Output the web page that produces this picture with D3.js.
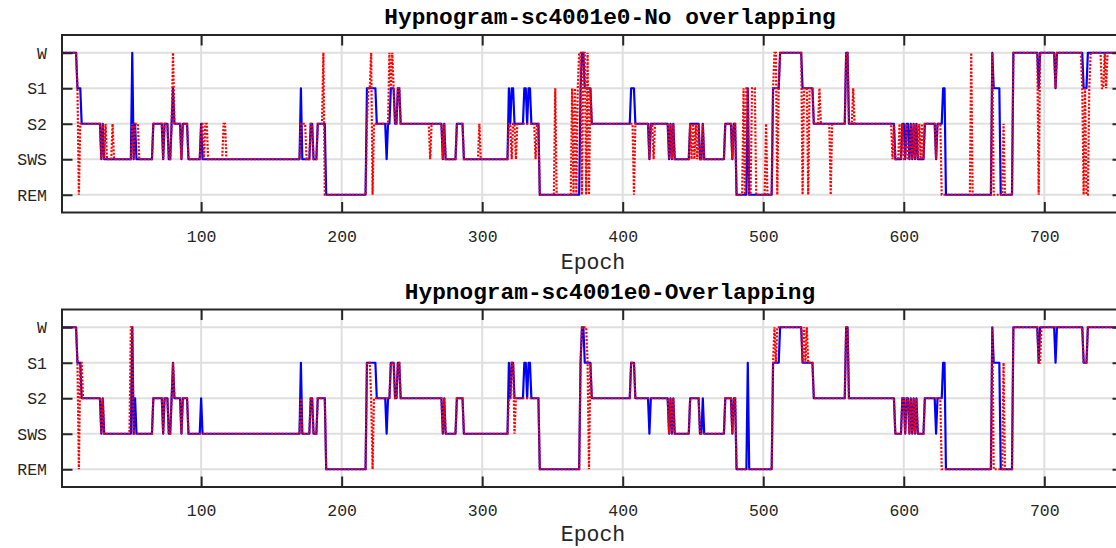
<!DOCTYPE html>
<html><head><meta charset="utf-8">
<script src="https://cdn.jsdelivr.net/npm/d3@7"></script>
<style>body{margin:0;background:#fff}svg{display:block}</style>
</head><body><svg id="c" width="1116" height="548"></svg>
<script>
const stageLabels = ["W","S1","S2","SWS","REM"];
const xTicks = [100,200,300,400,500,600,700];
const epochRange = [1, 756];
const titles = ["Hypnogram-sc4001e0-No overlapping","Hypnogram-sc4001e0-Overlapping"];
const xLabel = "Epoch";

// true hypnogram: [first epoch of run, stage]
const truthRuns = [
 [1,"W"],[12,"S1"],[15,"S2"],[29,"SWS"],[30,"S2"],[31,"SWS"],[51,"W"],[52,"SWS"],[53,"S2"],[54,"SWS"],
 [66,"S2"],[73,"SWS"],[74,"S2"],[77,"SWS"],[79,"S2"],[80,"S1"],[81,"S2"],[86,"SWS"],[87,"S2"],[91,"SWS"],
 [100,"S2"],[101,"SWS"],[171,"S1"],[172,"SWS"],[178,"S2"],[180,"SWS"],[183,"S2"],[189,"REM"],[218,"S1"],
 [225,"S2"],[232,"SWS"],[233,"S2"],[235,"S1"],[238,"S2"],[240,"S1"],[242,"S2"],[272,"SWS"],[273,"S2"],
 [274,"SWS"],[282,"S2"],[287,"SWS"],[319,"S1"],[320,"S2"],[321,"S1"],[323,"S2"],[330,"S1"],[332,"S2"],
 [333,"S1"],[335,"S2"],[341,"REM"],[370,"S1"],[371,"W"],[373,"S1"],[378,"S2"],[406,"S1"],[409,"S2"],
 [419,"SWS"],[420,"S2"],[433,"SWS"],[434,"S2"],[435,"SWS"],[436,"S2"],[437,"SWS"],[448,"S2"],[455,"SWS"],
 [457,"S2"],[458,"SWS"],[473,"S2"],[478,"SWS"],[479,"S2"],[481,"REM"],[489,"S1"],[490,"REM"],[507,"S1"],
 [512,"W"],[528,"S1"],[536,"S2"],[559,"W"],[561,"S2"],[594,"SWS"],[599,"S2"],[601,"SWS"],[602,"S2"],
 [604,"SWS"],[605,"S2"],[606,"SWS"],[607,"S2"],[608,"SWS"],[609,"S2"],[610,"SWS"],[615,"S2"],[623,"SWS"],
 [624,"S2"],[628,"S1"],[630,"REM"],[663,"W"],[664,"S1"],[669,"REM"],[678,"W"],[696,"S1"],[697,"W"],
 [708,"S1"],[709,"W"],[728,"S1"],[731,"W"]
];

// epochs where the predicted stage differs from the true one: [epoch, predicted stage]
const predNoOverlapDiff = [
 [13,"REM"],[14,"S2"],[32,"S2"],[37,"S2"],[51,"S2"],[54,"S2"],[55,"S2"],[80,"W"],[101,"S2"],[103,"S2"],
 [104,"S2"],[116,"S2"],[117,"S2"],[171,"S2"],[172,"S2"],[173,"S2"],[174,"S2"],[187,"W"],[188,"REM"],
 [218,"S2"],[221,"W"],[222,"REM"],[223,"S2"],[224,"S2"],[232,"S2"],[234,"W"],[236,"W"],[263,"SWS"],
 [298,"S2"],[319,"S2"],[320,"S2"],[321,"SWS"],[322,"S2"],[324,"SWS"],[330,"S2"],[331,"S2"],[333,"S2"],
 [334,"S2"],[338,"SWS"],[352,"S1"],[364,"S1"],[366,"S1"],[368,"S1"],[369,"W"],[370,"W"],[371,"REM"],
 [372,"W"],[373,"W"],[374,"REM"],[375,"W"],[376,"REM"],[406,"S2"],[407,"S2"],[408,"REM"],[422,"SWS"],
 [449,"SWS"],[451,"SWS"],[453,"SWS"],[486,"S1"],[488,"S1"],[492,"S1"],[493,"S1"],[494,"S1"],[502,"S2"],
 [508,"W"],[509,"W"],[510,"REM"],[528,"REM"],[532,"REM"],[540,"S1"],[548,"REM"],[564,"S1"],[592,"SWS"],
 [597,"S2"],[600,"SWS"],[603,"SWS"],[611,"S2"],[613,"S2"],[627,"REM"],[628,"REM"],[629,"REM"],[648,"W"],
 [664,"REM"],[665,"REM"],[666,"REM"],[667,"REM"],[668,"REM"],[671,"S2"],[696,"REM"],[727,"S1"],
 [728,"REM"],[729,"S1"],[730,"REM"],[731,"REM"],[732,"S1"],[741,"S1"],[742,"S1"],[744,"S1"]
];
const predOverlapDiff = [
 [13,"REM"],[15,"S1"],[50,"W"],[53,"SWS"],[100,"SWS"],[171,"S2"],[221,"S2"],[222,"REM"],[223,"S2"],
 [224,"S2"],[232,"S2"],[319,"S2"],[323,"SWS"],[330,"S2"],[331,"S2"],[333,"S2"],[334,"S2"],[373,"W"],
 [374,"W"],[375,"S1"],[376,"REM"],[419,"S2"],[457,"SWS"],[489,"REM"],[508,"W"],[510,"W"],[511,"W"],
 [529,"W"],[531,"W"],[623,"S2"],[627,"REM"],[628,"REM"],[629,"REM"],[664,"REM"],[665,"REM"],[666,"REM"],
 [667,"REM"],[668,"REM"],[671,"S1"],[697,"S1"],[708,"W"]
];

function expandRuns(runs, lastEpoch){
  const out = []; let k = 0;
  for (let e = runs[0][0]; e <= lastEpoch; e++){
    while (k + 1 < runs.length && runs[k+1][0] <= e) k++;
    out.push({e: e, s: runs[k][1]});
  }
  return out;
}
function applyDiff(series, diff){
  const m = new Map(diff.map(d => [d[0], d[1]]));
  return series.map(d => ({e: d.e, s: m.has(d.e) ? m.get(d.e) : d.s}));
}

const truth = expandRuns(truthRuns, epochRange[1]);
const panels = [
  {title: titles[0], pred: applyDiff(truth, predNoOverlapDiff), top: 35, bottom: 212.5, titleY: 24, tickY: 241.5, labelY: 269},
  {title: titles[1], pred: applyDiff(truth, predOverlapDiff), top: 309.5, bottom: 487, titleY: 298.5, tickY: 515.5, labelY: 541}
];

const svg = d3.select("#c");
const L = 62, R = 1123, TL = 10.5;
const x = d3.scaleLinear().domain(epochRange).range([L, R]);
const axisCol = "#262626", gridCol = "#dfdfdf";
const mono = "'Liberation Mono','Courier New',monospace";

panels.forEach((p, i) => {
  const y = d3.scalePoint().domain(stageLabels).range([p.top, p.bottom]).padding(0.5);
  const g = svg.append("g");
  const clipId = "clip" + i;
  svg.append("clipPath").attr("id", clipId).append("rect")
     .attr("x", L).attr("y", p.top).attr("width", R - L).attr("height", p.bottom - p.top);

  // grid
  g.selectAll(".vg").data(xTicks).join("line")
    .attr("x1", d => x(d)).attr("x2", d => x(d)).attr("y1", p.top).attr("y2", p.bottom)
    .attr("stroke", gridCol).attr("stroke-width", 2);
  g.selectAll(".hg").data(stageLabels).join("line")
    .attr("x1", L).attr("x2", R).attr("y1", d => y(d)).attr("y2", d => y(d))
    .attr("stroke", gridCol).attr("stroke-width", 2);

  const line = d3.line().x(d => x(d.e)).y(d => y(d.s));
  const dg = g.append("g").attr("clip-path", `url(#${clipId})`);
  dg.append("path").datum(truth).attr("d", line).attr("fill", "none")
    .attr("stroke", "#0000ff").attr("stroke-width", 2.2).attr("stroke-linejoin", "round");
  dg.append("path").datum(p.pred).attr("d", line).attr("fill", "none")
    .attr("stroke", "#ff0000").attr("stroke-width", 2.2).attr("stroke-dasharray", "2,1.6");

  // axes with inward ticks
  const ax = g.append("g");
  const bottomAxis = d3.axisBottom(x).tickValues(xTicks).tickSize(-TL).tickSizeOuter(0).tickFormat(d3.format("d"));
  const topAxis = d3.axisTop(x).tickValues(xTicks).tickSize(-TL).tickSizeOuter(0).tickFormat("");
  const leftAxis = d3.axisLeft(y).tickSize(-TL).tickSizeOuter(0);
  const rightAxis = d3.axisRight(y).tickSize(-TL).tickSizeOuter(0).tickFormat("");
  const gb = ax.append("g").attr("transform", `translate(0,${p.bottom})`).call(bottomAxis);
  const gt = ax.append("g").attr("transform", `translate(0,${p.top})`).call(topAxis);
  const gl = ax.append("g").attr("transform", `translate(${L},0)`).call(leftAxis);
  const gr = ax.append("g").attr("transform", `translate(${R},0)`).call(rightAxis);
  [gb, gt, gl, gr].forEach(a => {
    a.select(".domain").remove();
    a.selectAll(".tick line").attr("stroke", axisCol).attr("stroke-width", 2);
  });
  gb.selectAll(".tick text").attr("y", null).attr("dy", null)
    .attr("transform", `translate(0,${p.tickY - p.bottom})`)
    .attr("font-family", mono).attr("font-size", 16.5).attr("fill", axisCol);
  gl.selectAll(".tick text").attr("x", -15).attr("dy", "0.32em")
    .attr("font-family", mono).attr("font-size", 16.5).attr("fill", axisCol);
  ax.append("rect").attr("x", L).attr("y", p.top).attr("width", R - L).attr("height", p.bottom - p.top)
    .attr("fill", "none").attr("stroke", axisCol).attr("stroke-width", 2);

  svg.append("text").attr("x", 610).attr("y", p.titleY).attr("text-anchor", "middle")
    .attr("font-family", mono).attr("font-weight", "bold").attr("font-size", 22.8).attr("fill", "#000")
    .text(p.title);
  svg.append("text").attr("x", 593).attr("y", p.labelY).attr("text-anchor", "middle")
    .attr("font-family", mono).attr("font-size", 21.5).attr("fill", axisCol).text(xLabel);
});
</script></body></html>
